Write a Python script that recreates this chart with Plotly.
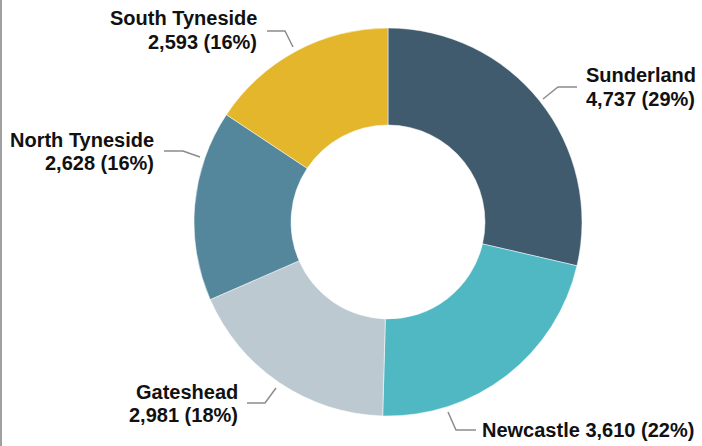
import plotly.graph_objects as go

# ---- data ----
areas = ["Sunderland", "Newcastle", "Gateshead", "North Tyneside", "South Tyneside"]
counts = [4737, 3610, 2981, 2628, 2593]
colors = ["#3f5b6d", "#4fb8c3", "#bdc9d1", "#54879c", "#e4b62c"]

W, H = 702, 446
total = sum(counts)
pcts = [round(100 * c / total) for c in counts]

# ---- label layout (pixel positions) ----
label_x = [584, 480, 240, 156, 259]
label_side = ["left", "left", "right", "right", "right"]
label_y1 = [75, 430, 392, 140, 18]
label_y2 = [99, None, 415, 163, 42]
connectors = [
    [(543, 99), (558, 87), (577, 87)],
    [(448, 412), (456, 430), (476, 430)],
    [(276, 388), (265, 403), (247, 403)],
    [(200, 157), (183, 151), (164, 151)],
    [(293, 47), (285, 31), (267, 31)],
]

def px(x):
    return x / W

def py(y):
    return 1 - y / H

cx, cy, r = 388, 222, 194

fig = go.Figure(go.Pie(
    labels=areas,
    values=counts,
    hole=0.5,
    sort=False,
    direction="clockwise",
    rotation=0,
    marker=dict(colors=colors, line=dict(color="white", width=0.5)),
    textinfo="none",
    hoverinfo="label+value+percent",
    showlegend=False,
    domain=dict(x=[px(cx - r), px(cx + r)], y=[py(cy + r), py(cy - r)]),
))

font = dict(family="Liberation Sans, Arial, sans-serif", size=20, color="#111111")
annotations = []
shapes = []
for i, name in enumerate(areas):
    val = f"{counts[i]:,} ({pcts[i]}%)"
    anchor = label_side[i]
    if label_y2[i] is None:
        annotations.append(dict(x=px(label_x[i]), y=py(label_y1[i]), xref="paper", yref="paper",
                                text=f"<b>{name} {val}</b>", showarrow=False,
                                xanchor=anchor, yanchor="middle", font=font))
    else:
        annotations.append(dict(x=px(label_x[i]), y=py(label_y1[i]), xref="paper", yref="paper",
                                text=f"<b>{name}</b>", showarrow=False,
                                xanchor=anchor, yanchor="middle", font=font))
        annotations.append(dict(x=px(label_x[i]), y=py(label_y2[i]), xref="paper", yref="paper",
                                text=f"<b>{val}</b>", showarrow=False,
                                xanchor=anchor, yanchor="middle", font=font))
    pts = connectors[i]
    path = "M " + " L ".join(f"{px(x)},{py(y)}" for x, y in pts)
    shapes.append(dict(type="path", xref="paper", yref="paper", path=path,
                       line=dict(color="#8c8c8c", width=1.5)))

# left border line
shapes.append(dict(type="line", xref="paper", yref="paper", x0=px(1), x1=px(1), y0=0, y1=1,
                   line=dict(color="#a0a0a0", width=2)))

fig.update_layout(
    width=W, height=H,
    margin=dict(l=0, r=0, t=0, b=0),
    paper_bgcolor="white",
    plot_bgcolor="white",
    annotations=annotations,
    shapes=shapes,
)

fig.write_html("out.html", config={"displayModeBar": False},
               post_script="document.body.style.margin='0';document.body.style.overflow='hidden';")
